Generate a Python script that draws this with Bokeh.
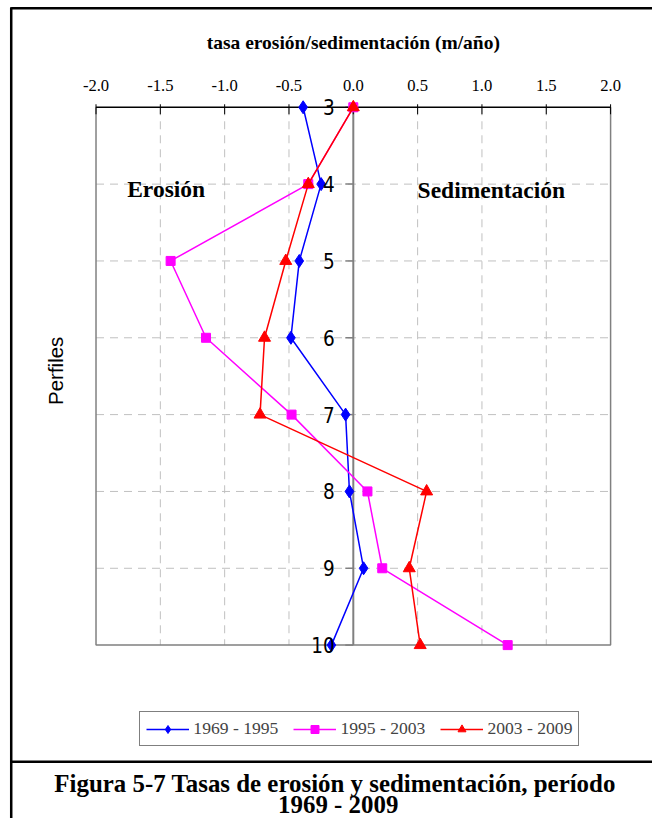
import numpy as np
from bokeh.plotting import figure
from bokeh.models import Range1d, Legend, LegendItem
from bokeh.core.properties import value
from bokeh.embed import file_html
from bokeh.resources import INLINE

# ---------------- data ----------------
profiles = [3, 4, 5, 6, 7, 8, 9, 10]
rate_1969_1995 = [-0.39, -0.25, -0.42, -0.485, -0.06, -0.03, 0.08, -0.17]
rate_1995_2003 = [0.0, -0.35, -1.42, -1.145, -0.48, 0.11, 0.225, 1.20]
rate_2003_2009 = [0.0, -0.35, -0.525, -0.69, -0.725, 0.57, 0.435, 0.52]
series_names = ["1969 - 1995", "1995 - 2003", "2003 - 2009"]
x_ticks = [-2.0, -1.5, -1.0, -0.5, 0.0, 0.5, 1.0, 1.5, 2.0]
x_tick_labels = ["-2.0", "-1.5", "-1.0", "-0.5", "0.0", "0.5", "1.0", "1.5", "2.0"]
y_tick_labels = ["3", "4", "5", "6", "7", "8", "9", "10"]
x_title = "tasa erosión/sedimentación (m/año)"
y_title = "Perfiles"
zone_labels = ["Erosión", "Sedimentación"]
caption_line1 = "Figura  5-7 Tasas de erosión y sedimentación, período"
caption_line2 = "1969 - 2009"

# ---------------- layout ----------------
W, H = 652, 818                  # canvas size
RW, RH = 669, 835                # reference picture size
KX, KY = W / RW, H / RH          # reference px -> canvas px
K = (KX + KY) / 2
XA_PX, XB_PX = 98, 626           # reference px of x = -2 and x = 2
YA_PX, YB_PX = 109, 658          # reference px of y = 3 and y = 10
xmin, xmax = x_ticks[0], x_ticks[-1]
ymin, ymax = profiles[0], profiles[-1]
sx = (XB_PX - XA_PX) * KX / (xmax - xmin)   # canvas px per data unit
sy = (YB_PX - YA_PX) * KY / (ymax - ymin)


def X(px):
    return xmin + (px - XA_PX) * KX / sx


def Y(py):
    return ymin + (py - YA_PX) * KY / sy


def fs(px):
    return "%.1fpx" % (px * K)


p = figure(width=W, height=H,
           x_range=Range1d(X(0), X(RW)),
           y_range=Range1d(Y(RH), Y(0)),
           output_backend="svg", toolbar_location=None,
           min_border=0, x_axis_location=None, y_axis_location=None,
           outline_line_color=None, background_fill_color="white",
           border_fill_color="white")
p.grid.visible = False

serif = value("Liberation Serif")
sans = value("Liberation Sans")
narrow = value("DejaVu Sans Condensed")

# outer frame and separator
p.line(x=[X(11), X(11)], y=[Y(7), Y(RH)], line_color="black", line_width=2.5)
p.line(x=[X(11), X(RW)], y=[Y(8), Y(8)], line_color="black", line_width=2.5)
p.line(x=[X(11), X(RW)], y=[Y(777), Y(777)], line_color="black", line_width=2.5)

# grid
inner_x = [t for t in x_ticks if t not in (xmin, 0.0, xmax)]
p.segment(x0=inner_x, y0=ymin, x1=inner_x, y1=ymax,
          line_color="#c0c0c0", line_width=1, line_dash="8 6")
inner_y = profiles[1:-1]
p.segment(x0=xmin, y0=inner_y, x1=xmax, y1=inner_y,
          line_color="#c0c0c0", line_width=1, line_dash="8 6")

# plot area border (left, bottom, right)
p.line(x=[xmin, xmin, xmax, xmax], y=[ymin, ymax, ymax, ymin],
       line_color="#808080", line_width=1.5)

# zero axis with ticks
p.line(x=[0, 0], y=[ymin, ymax], line_color="#808080", line_width=2)
p.segment(x0=-8 / sx, y0=profiles, x1=0, y1=profiles, line_color="#808080", line_width=1.5)

# top axis with ticks
p.line(x=[xmin, xmax], y=[ymin, ymin], line_color="black", line_width=1.5)
p.segment(x0=x_ticks, y0=ymin - 3 / sy, x1=x_ticks, y1=ymin + 7 / sy,
          line_color="black", line_width=1)
p.text(x=x_ticks, y=Y(87), text=x_tick_labels, text_font=serif,
       text_font_size=fs(17), text_align="center", text_baseline="alphabetic",
       text_color="black")

# title
p.text(x=[0.0], y=[Y(43)], text=[x_title], text_font=serif, text_font_style="bold",
       text_font_size=fs(20), text_align="center", text_baseline="alphabetic",
       text_color="black")

# y label
p.text(x=[X(56)], y=[Y(378)], text=[y_title], text_font=sans, text_font_size=fs(21),
       text_align="center", text_baseline="middle", angle=np.pi / 2, text_color="black")

# zone labels
p.text(x=[X(130), X(428)], y=[Y(192), Y(193)], text=zone_labels, text_font=serif,
       text_font_style="bold", text_font_size=fs(24), text_align="left",
       text_baseline="alphabetic", text_color="black")

# series
specs = [
    (rate_1969_1995, "#0000FF", "diamond", 13),
    (rate_1995_2003, "#FF00FF", "square", 9),
    (rate_2003_2009, "#FF0000", "triangle", 12),
]
items = []
for name, (vals, color, marker, size) in zip(series_names, specs):
    r1 = p.line(x=vals, y=profiles, line_color=color, line_width=1.5)
    r2 = p.scatter(x=vals, y=profiles, marker=marker, size=size,
                   fill_color=color, line_color=color)
    items.append(LegendItem(label=name, renderers=[r1, r2]))

# profile labels on the zero axis
p.text(x=[0.0] * len(profiles), y=profiles, text=y_tick_labels, x_offset=-19 * KX,
       text_font=narrow, text_font_size=fs(21),
       text_align="right", text_baseline="middle", text_color="black")

# legend
legend = Legend(items=items, orientation="horizontal",
                location=(143 * KX, (RH - 762) * KY),
                label_text_font="Liberation Serif", label_text_font_size=fs(18),
                glyph_width=43, glyph_height=20, label_height=20,
                label_standoff=4, spacing=15, padding=6, margin=0,
                border_line_color="black", border_line_width=1,
                background_fill_color="white", background_fill_alpha=1.0)
p.add_layout(legend)

# caption
p.text(x=[X(346.5)], y=[Y(799)], text=[caption_line1],
       text_font=serif, text_font_style="bold", text_font_size=fs(25.5),
       text_align="center", text_baseline="alphabetic", text_color="black")
p.text(x=[X(346.5)], y=[Y(821)], text=[caption_line2],
       text_font=serif, text_font_style="bold", text_font_size=fs(25.5),
       text_align="center", text_baseline="alphabetic", text_color="black")

open("out.html", "w").write(file_html(p, INLINE))
